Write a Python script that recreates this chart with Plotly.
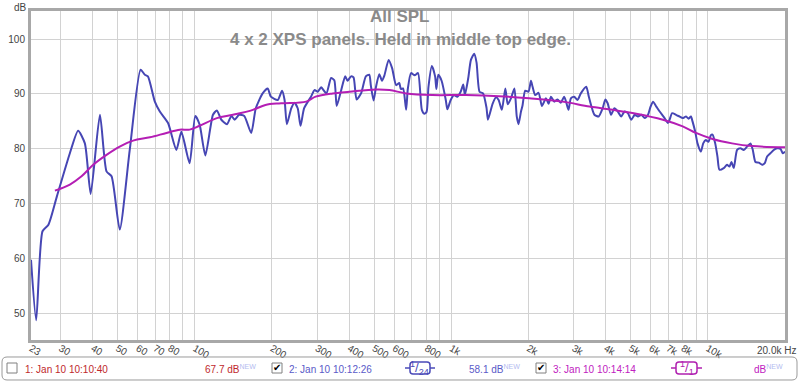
import plotly.graph_objects as go
import math

# ---------------- data ----------------
blue_freq = [23.0, 24.1, 25.5, 26.9, 29.0, 32.6, 35.1, 37.3, 39.3, 42.7, 45.3, 47.4, 51.0, 55.8,
             61.5, 63.9, 65.7, 69.9, 73.1, 78.7, 84.8, 88.7, 95.5, 100.5, 104.5, 110, 117.8, 122,
             127, 133.6, 139, 143, 149, 156, 166, 173, 184, 192.6, 198, 210.7, 219, 224, 228.6,
             238, 244.7, 252, 258.5, 267, 284, 293, 302, 311, 326, 340, 350, 357.6, 371, 386,
             394, 406.6, 416, 427.5, 445, 464.6, 479, 486, 498, 509, 524, 537, 549, 570, 588,
             609.6, 627, 636, 649, 667, 677, 697, 720, 742, 768, 785, 801, 815, 840, 865, 875,
             890, 917, 952, 966, 995, 1025, 1056, 1088, 1114, 1130, 1165, 1193, 1229, 1255, 1289,
             1330, 1372, 1390, 1449, 1494, 1530, 1575, 1625, 1660, 1712, 1763, 1800, 1829, 1870,
             1896, 1942, 2000, 2045, 2075, 2124, 2190, 2256, 2340, 2395, 2448, 2521, 2596, 2674,
             2755, 2813, 2864, 2927, 3015, 3106, 3200, 3358, 3438, 3515, 3614, 3756, 3894, 3988,
             4071, 4199, 4326, 4458, 4598, 4737, 4880, 5033, 5187, 5343, 5511, 5677, 5849, 5975,
             6116, 6302, 6493, 6787, 6992, 7096, 7264, 7521, 7749, 7984, 8227, 8419, 8597, 8720,
             8935, 9120, 9400, 9597, 9830, 10060, 10285, 10438, 10690, 10907, 11104, 11540, 11890,
             12147, 12368, 12630, 13010, 13410, 13810, 14230, 14670, 14980, 15340, 15800, 16280,
             16680, 17030, 17550, 18080, 18630, 19210, 19600, 20000]
blue_db = [59.8, 48.8, 65.0, 66.2, 71.3, 79.2, 83.3, 81.0, 71.8, 86.2, 75.9, 75.0, 65.3, 79.8,
           94.4, 93.5, 93.2, 88.6, 86.8, 84.7, 79.8, 83.1, 77.4, 86.0, 84.4, 78.8, 86.2, 87.0,
           85.3, 84.5, 86.0, 85.3, 86.2, 86.0, 82.9, 87.4, 90.1, 91.0, 89.5, 88.9, 90.6, 88.9, 84.5,
           87.4, 88.4, 87.4, 84.2, 87.4, 89.5, 90.7, 90.4, 91.2, 90.1, 92.9, 92.5, 87.8, 90.4, 93.2,
           92.4, 93.2, 93.0, 89.0, 90.1, 93.2, 93.5, 91.5, 88.8, 91.3, 93.6, 92.4, 93.4, 96.2, 94.7,
           91.6, 92.0, 90.9, 91.0, 87.1, 90.9, 93.8, 93.4, 93.8, 87.1, 86.4, 86.7, 91.3, 95.1, 93.2, 90.9,
           93.5, 92.4, 88.9, 87.2, 88.9, 89.8, 89.5, 90.4, 91.7, 89.8, 92.9, 96.2, 97.3, 95.7, 90.4,
           90.1, 87.5, 85.3, 88.2, 89.4, 88.9, 87.1, 91.0, 88.1, 89.3, 91.0, 85.9, 84.5, 86.8,
           87.9, 90.6, 90.4, 92.4, 91.3, 89.8, 90.2, 87.8, 89.2, 88.2, 89.5, 88.6, 89.0, 88.4,
           89.5, 88.3, 87.1, 89.2, 89.5, 88.9, 90.1, 91.3, 89.5, 87.8, 86.2, 85.9, 87.4, 89.0,
           88.3, 86.2, 87.4, 86.8, 85.9, 86.8, 86.5, 85.3, 86.2, 85.9, 86.2, 85.6, 86.2, 87.6,
           88.6, 87.7, 86.8, 85.6, 84.7, 85.3, 86.5, 86.2, 85.9, 85.6, 85.9, 85.5, 85.9, 85.0,
           83.1, 81.0, 79.5, 81.0, 81.6, 81.3, 82.5, 82.6, 81.0, 78.6, 76.2, 76.5, 77.1,
           76.8, 77.6, 76.5, 79.8, 80.1, 79.8, 80.4, 81.0, 79.8, 77.6, 77.5, 77.1,
           77.4, 78.6, 79.2, 79.8, 80.1, 80.0, 79.2, 79.5]

mag_freq = [28.5, 32.6, 36.2, 40.2, 45.3, 51, 57.5, 66.9, 77.6, 87.4, 95.5, 104.5, 122, 141,
            168.5, 188.6, 217, 272, 296, 345, 400.7, 509, 574, 667, 845, 1140, 1537, 2012,
            2714, 3460, 4262, 5264, 6685, 7984, 8996, 10438, 12435, 14880, 20000]
mag_db = [72.4, 73.5, 75.0, 77.1, 78.9, 80.4, 81.5, 82.1, 82.9, 83.5, 83.5, 84.2, 85.6, 86.2,
          87.1, 88.0, 88.3, 88.6, 89.5, 90.1, 90.4, 90.8, 90.7, 90.1, 89.8, 89.8, 89.6, 89.2,
          88.6, 87.7, 87.1, 86.4, 85.3, 84.1, 82.9, 81.8, 81.0, 80.5, 80.3]

x_tick_vals = [23, 30, 40, 50, 60, 70, 80, 90, 100, 200, 300, 400, 500, 600, 700, 800, 900,
               1000, 2000, 3000, 4000, 5000, 6000, 7000, 8000, 9000, 10000, 20000]
x_tick_text = ["23", "30", "40", "50", "60", "70", "80", " ", "100", "200", "300", "400", "500",
               "600", " ", "800", " ", "1k", "2k", "3k", "4k", "5k", "6k", "7k", "8k", " ", "10k", " "]
y_tick_vals = [50, 60, 70, 80, 90, 100]

title_text = "All SPL"
subtitle_text = "4 x 2 XPS panels. Held in middle top edge."

# ---------------- layout helpers ----------------
L, R, T, B = 31, 785, 11, 340
W, H = R - L, B - T
def px(x): return (x - L) / W
def py(y): return (B - y) / H

FONT = "Liberation Sans, Arial, sans-serif"
BLUE_LINE = "#4646b4"
MAG_LINE = "#b41eb4"
RED_TXT = "#c0282c"
BLUE_TXT = "#5a5ac8"
MAG_TXT = "#c020c0"
NEW_TXT = "#b4bcf0"

fig = go.Figure()
fig.add_trace(go.Scatter(x=blue_freq, y=blue_db, mode="lines",
                         line=dict(color=BLUE_LINE, width=2, shape="spline", smoothing=0.6),
                         hoverinfo="skip", showlegend=False))
fig.add_trace(go.Scatter(x=mag_freq, y=mag_db, mode="lines",
                         line=dict(color=MAG_LINE, width=2, shape="spline", smoothing=1.0),
                         hoverinfo="skip", showlegend=False))

def rounded_path(x0, y0, x1, y1, r):
    def P(x, y): return f"{px(x):.5f},{py(y):.5f}"
    return (f"M {P(x0 + r, y0)} L {P(x1 - r, y0)} Q {P(x1, y0)} {P(x1, y0 + r)} "
            f"L {P(x1, y1 - r)} Q {P(x1, y1)} {P(x1 - r, y1)} L {P(x0 + r, y1)} "
            f"Q {P(x0, y1)} {P(x0, y1 - r)} L {P(x0, y0 + r)} Q {P(x0, y0)} {P(x0 + r, y0)} Z")

shapes = []
# legend box
shapes.append(dict(type="path", xref="paper", yref="paper", path=rounded_path(2, 357, 797, 380, 5),
                   line=dict(color="#9a9a9a", width=1), fillcolor="rgba(0,0,0,0)", layer="above"))
# checkboxes
for cx in (7, 272, 536):
    shapes.append(dict(type="rect", xref="paper", yref="paper", x0=px(cx), x1=px(cx + 10),
                       y0=py(373), y1=py(363), line=dict(color="#808080", width=1),
                       fillcolor="white", layer="above"))
# badges
for (bx0, bx1, col) in ((410, 430, "#4a4ab8"), (676, 697, "#b020b0")):
    shapes.append(dict(type="path", xref="paper", yref="paper",
                       path=rounded_path(bx0, 362, bx1, 374, 3),
                       line=dict(color=col, width=1.5), fillcolor="white", layer="above"))
    shapes.append(dict(type="line", xref="paper", yref="paper", x0=px(bx0 - 5), x1=px(bx0),
                       y0=py(368), y1=py(368), line=dict(color=col, width=1.5), layer="above"))
    shapes.append(dict(type="line", xref="paper", yref="paper", x0=px(bx1), x1=px(bx1 + 5),
                       y0=py(368), y1=py(368), line=dict(color=col, width=1.5), layer="above"))

ann = []
def A(text, x, y, color, size=10, xanchor="left", bold=False):
    if bold:
        text = f"<b>{text}</b>"
    ann.append(dict(text=text, x=px(x), y=py(y), xref="paper", yref="paper", showarrow=False,
                    xanchor=xanchor, yanchor="middle", font=dict(family=FONT, size=size, color=color)))

A(title_text, 400, 17, "#8a8a8a", size=17, xanchor="center", bold=True)
A(subtitle_text, 400, 39, "#8a8a8a", size=17, xanchor="center", bold=True)
A("dB", 20, 7, "#444444", size=10, xanchor="center")
A("20.0k Hz", 798, 350, "#444444", size=10, xanchor="right")

A("1: Jan 10 10:10:40", 23, 369, RED_TXT)
A(f"67.7 dB<sup><span style='color:{NEW_TXT}'>NEW</span></sup>", 203, 369, RED_TXT)
A("2: Jan 10 10:12:26", 287, 369, BLUE_TXT)
A(f"58.1 dB<sup><span style='color:{NEW_TXT}'>NEW</span></sup>", 467, 369, BLUE_TXT)
A("3: Jan 10 10:14:14", 551, 369, MAG_TXT)
A(f"dB<sup><span style='color:{NEW_TXT}'>NEW</span></sup>", 752, 369, MAG_TXT)
A("<sup>1</sup>/<sub>24</sub>", 420, 368, "#4a4ab8", size=13, xanchor="center")
A("<sup>1</sup>/<sub>1</sub>", 686.5, 368, "#b020b0", size=13, xanchor="center")
for cx in (272, 536):
    A("✔", cx + 5, 368, "#000000", size=10, xanchor="center")

fig.update_layout(
    width=800, height=381,
    margin=dict(l=L, r=800 - R, t=T, b=381 - B, pad=0),
    paper_bgcolor="white", plot_bgcolor="white",
    font=dict(family=FONT, size=10, color="#444444"),
    shapes=shapes, annotations=ann, showlegend=False,
    xaxis=dict(type="log", range=[math.log10(23), math.log10(20000)],
               tickvals=x_tick_vals, ticktext=x_tick_text,
               showgrid=True, gridcolor="#d2d2d2", gridwidth=1,
               showline=True, mirror=True, linecolor="#a8a8a8", linewidth=3,
               ticks="", ticklabelstandoff=-4,
               tickfont=dict(family=FONT, size=10, color="#444444"),
               zeroline=False, automargin=False),
    yaxis=dict(range=[45.2, 105.1], tickvals=y_tick_vals,
               showgrid=True, gridcolor="#d2d2d2", gridwidth=1,
               showline=True, mirror=True, linecolor="#a8a8a8", linewidth=3,
               ticks="outside", ticklen=1, tickcolor="rgba(0,0,0,0)",
               tickfont=dict(family=FONT, size=10, color="#444444"),
               zeroline=False, automargin=False),
)

fig.write_html("out.html", config={"displayModeBar": False},
               post_script="document.body.style.margin='0';document.body.style.overflow='hidden';")
